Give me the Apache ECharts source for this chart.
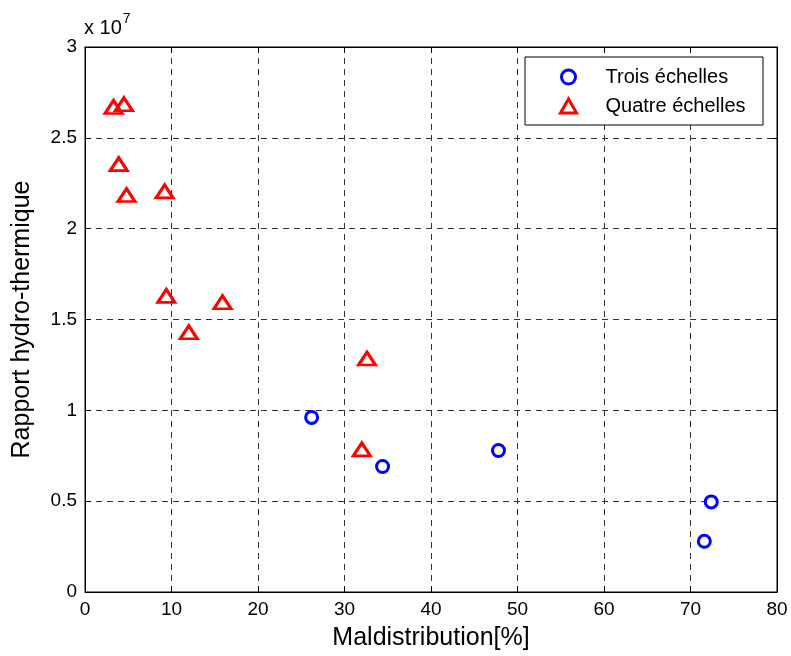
<!DOCTYPE html>
<html>
<head>
<meta charset="utf-8">
<script src="https://cdn.jsdelivr.net/npm/echarts@6/dist/echarts.min.js"></script>
<style>html,body{margin:0;padding:0;background:#fff}#c{width:791px;height:656px}</style>
</head>
<body>
<div id="c"></div>
<script>
// Data (y values in units of 1e7)
const troisX = [26.2, 34.4, 47.8, 72.4, 71.6];
const troisY = [0.961, 0.691, 0.779, 0.496, 0.279];
const quatreX = [3.3, 4.5, 3.9, 4.8, 9.2, 9.4, 15.9, 12.0, 32.6, 32.0];
const quatreY = [2.67, 2.685, 2.355, 2.185, 2.205, 1.63, 1.595, 1.43, 1.285, 0.785];
const seriesNames = ['Trois échelles', 'Quatre échelles'];
const xName = 'Maldistribution[%]';
const yName = 'Rapport hydro-thermique';

const font = 'Arial, "Liberation Sans", Helvetica, sans-serif';
const grid = {left: 85, right: 14, top: 47, bottom: 63};
const gridLine = {show: true, lineStyle: {color: '#333', type: [6, 5], width: 1}};
const tickIn = {show: true, inside: true, length: 6, lineStyle: {color: '#000'}};

const chart = echarts.init(document.getElementById('c'));
chart.setOption({
  backgroundColor: '#fff',
  animation: false,
  textStyle: {fontFamily: font},
  grid: Object.assign({show: true, borderColor: '#000', borderWidth: 1, backgroundColor: 'transparent'}, grid),
  graphic: [
    {type: 'rect', z: 20, shape: {x: 525, y: 57, width: 238, height: 68},
     style: {fill: '#fff', stroke: '#000', lineWidth: 1}},
    {type: 'text', z: 20, left: 84, top: 12,
     style: {text: '{n|x 10}{s|7}', fill: '#000',
       rich: {n: {fontSize: 20, fontFamily: font, verticalAlign: 'bottom'},
              s: {fontSize: 14, fontFamily: font, verticalAlign: 'top', padding: [0, 0, 12, 1]}}}}
  ],
  legend: {
    z: 30, orient: 'vertical', left: 554, top: 62,
    itemWidth: 16, itemHeight: 14, itemGap: 9,
    textStyle: {fontSize: 20, color: '#000', fontFamily: font, padding: [0, 0, 0, 24]},
    data: [
      {name: seriesNames[0], icon: 'circle', itemStyle: {color: '#fff', borderColor: '#0000ff', borderWidth: 3}},
      {name: seriesNames[1], icon: 'triangle', itemStyle: {color: '#fff', borderColor: '#ff0000', borderWidth: 3}}
    ]
  },
  xAxis: [
    {type: 'value', min: 0, max: 80, interval: 10, position: 'bottom',
     name: xName, nameLocation: 'middle', nameGap: 34,
     nameTextStyle: {fontSize: 25, color: '#000', fontFamily: font},
     axisLine: {show: true, onZero: false, lineStyle: {color: '#000'}},
     axisTick: tickIn, splitLine: gridLine,
     axisLabel: {fontSize: 19, color: '#000', margin: 8, fontFamily: font}},
    {type: 'value', min: 0, max: 80, interval: 10, position: 'top',
     axisLine: {show: true, onZero: false, lineStyle: {color: '#000'}},
     axisTick: tickIn, splitLine: {show: false}, axisLabel: {show: false}}
  ],
  yAxis: [
    {type: 'value', min: 0, max: 3, interval: 0.5, position: 'left',
     name: yName, nameLocation: 'middle', nameGap: 50, nameRotate: 90,
     nameTextStyle: {fontSize: 25, color: '#000', fontFamily: font},
     axisLine: {show: true, onZero: false, lineStyle: {color: '#000'}},
     axisTick: tickIn, splitLine: gridLine,
     axisLabel: {fontSize: 19, color: '#000', margin: 8, fontFamily: font}},
    {type: 'value', min: 0, max: 3, interval: 0.5, position: 'right',
     axisLine: {show: true, onZero: false, lineStyle: {color: '#000'}},
     axisTick: tickIn, splitLine: {show: false}, axisLabel: {show: false}}
  ],
  series: [
    {name: seriesNames[0], type: 'scatter', symbol: 'circle', symbolSize: 12, z: 10,
     itemStyle: {color: '#fff', borderColor: '#0000ff', borderWidth: 3, opacity: 1},
     data: troisX.map((x, i) => [x, troisY[i]])},
    {name: seriesNames[1], type: 'scatter', symbol: 'triangle', symbolSize: [17, 13], z: 10,
     itemStyle: {color: 'rgba(255,255,255,0)', borderColor: '#ff0000', borderWidth: 3, opacity: 1},
     data: quatreX.map((x, i) => [x, quatreY[i]])}
  ]
});
</script>
</body>
</html>
